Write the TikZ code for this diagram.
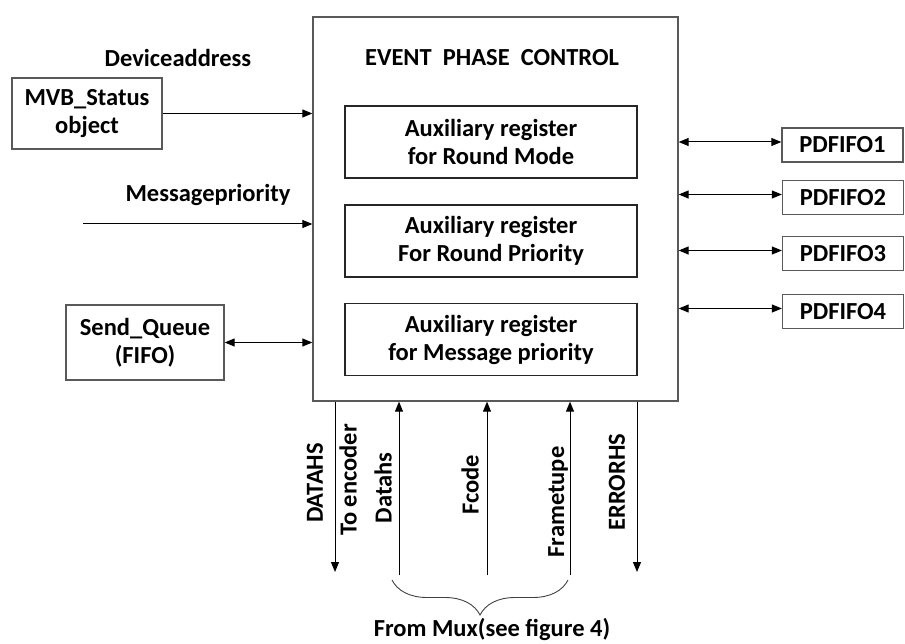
\documentclass[tikz,border=0pt]{standalone}
\usepackage{fontspec}
\setmainfont{Carlito}
\usetikzlibrary{arrows.meta,decorations.pathreplacing}

\begin{document}
\begin{tikzpicture}[>={Triangle[length=10pt,width=8pt]}, x=1pt, y=-1pt]
	\tikzstyle{every node} = [font=\bfseries\fontsize{24.5}{28}\selectfont, align=center, inner sep=0pt];
	\tikzstyle{block} = [draw=black!65, line width=1.3pt, fill=white];
	\tikzstyle{regbox} = [draw=black!85, line width=1.1pt, minimum width=292, minimum height=72];
	\tikzstyle{fifobox} = [block, minimum width=121, minimum height=34];
	\tikzstyle{sig} = [line width=1pt];
	\useasboundingbox (0,0) rectangle (905,644);

	% main block and its registers
	\node[block, minimum width=365, minimum height=384] (epc) at (495.5,209) {};
	\node (title) at (492,58) {EVENT~~PHASE~~CONTROL};
	\node[regbox] (round) at (491,142) {Auxiliary register\\for Round Mode};
	\node[regbox] (roundprio) at (491,241) {Auxiliary register\\For Round Priority};
	\node[regbox] (msgprio) at (491,339.5) {Auxiliary register\\for Message priority};

	% left side
	\node[block, minimum width=150, minimum height=71] (mvb) at (87,113.5) {MVB\_Status\\object};
	\node[block, minimum width=158, minimum height=75] (sendq) at (145,342.5) {Send\_Queue\\(FIFO)};
	\node (devaddr) at (178,58) {Deviceaddress};
	\node (msgtext) at (208,195) {Messagepriority};
	\coordinate (msgin) at (83,224);
	\draw[sig,->] (mvb.east) -- (mvb.east -| epc.west);
	\draw[sig,->] (msgin) -- (msgin -| epc.west);
	\draw[sig,<->] (sendq.east) -- (sendq.east -| epc.west);

	% right side
	\node[fifobox] (pd1) at (842.5,145) {PDFIFO1};
	\node[fifobox] (pd2) at (843,197.5) {PDFIFO2};
	\node[fifobox] (pd3) at (843,253.5) {PDFIFO3};
	\node[fifobox] (pd4) at (843,311.5) {PDFIFO4};
	\foreach \f in {pd1,pd2,pd3,pd4}
		\draw[sig,<->] ([yshift=3pt]\f.west -| epc.east) -- ([yshift=3pt]\f.west);

	% bottom signals
	\coordinate (dataout) at (335,572);
	\coordinate (errout) at (637,572);
	\coordinate (datahsin) at (399,575);
	\coordinate (fcodein) at (487,575);
	\coordinate (framein) at (570,575);
	\draw[sig,->] (dataout |- epc.south) -- (dataout);
	\draw[sig,->] (errout |- epc.south) -- (errout);
	\draw[sig,->] (datahsin) -- (datahsin |- epc.south);
	\draw[sig,->] (fcodein) -- (fcodein |- epc.south);
	\draw[sig,->] (framein) -- (framein |- epc.south);
	\node[rotate=90] (datahs) at (315,483) {DATAHS};
	\node[rotate=90] (toenc) at (348,480) {To encoder};
	\node[rotate=90] (datahsl) at (383,488) {Datahs};
	\node[rotate=90] (fcode) at (470,485) {Fcode};
	\node[rotate=90] (frametupe) at (558,502) {Frametupe};
	\node[rotate=90] (errorhs) at (617,482) {ERRORHS};

	% brace under the inputs
	\coordinate (braceL) at (392,580);
	\coordinate (braceR) at (568,580);
	\draw[black!75, line width=0.9pt, decorate, decoration={brace, mirror, amplitude=35pt}] (braceL) -- (braceR);
	\node (frommux) at (492,629) {From Mux(see figure 4)};
\end{tikzpicture}
\end{document}
